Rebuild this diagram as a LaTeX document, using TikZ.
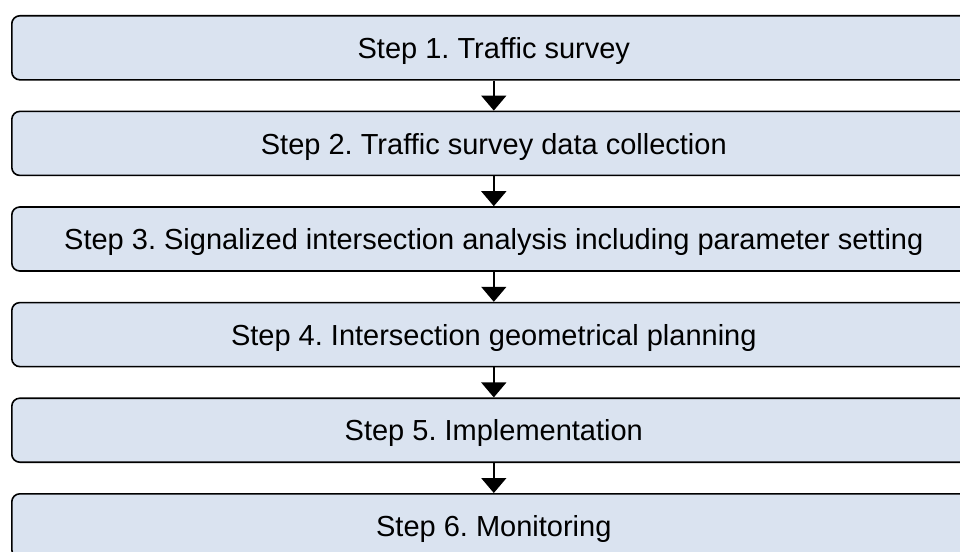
\documentclass[tikz,border=0pt]{standalone}
\usepackage{fontspec}
\setmainfont{Liberation Sans}
\usetikzlibrary{arrows.meta}
\definecolor{stepfill}{RGB}{218,227,240}
\tikzset{
  stepbox/.style={draw=black, line width=1.6pt, fill=stepfill, rounded corners=8pt,
    minimum width=964pt, minimum height=64pt, inner sep=0pt,
    text height=21.5pt, text depth=0pt,
    font=\fontsize{29}{34}\selectfont\frenchspacing, anchor=north west},
  flow/.style={line width=1.6pt, -{Triangle[width=25pt,length=15pt]}}
}
\begin{document}
\begin{tikzpicture}[x=1pt,y=1pt]
\useasboundingbox (0,0) rectangle (960,-551);
\begin{scope}
\clip (0,0) rectangle (960,-551);
\node[stepbox] (s1) at (11,-15)    {Step 1. Traffic survey};
\node[stepbox] (s2) at (11,-110.6) {Step 2. Traffic survey data collection};
\node[stepbox] (s3) at (11,-206.2) {Step 3. Signalized intersection analysis including parameter setting};
\node[stepbox] (s4) at (11,-301.8) {Step 4. Intersection geometrical planning};
\node[stepbox] (s5) at (11,-397.4) {Step 5. Implementation};
\node[stepbox] (s6) at (11,-493)   {Step 6. Monitoring};
\end{scope}
\foreach \a/\b in {s1/s2,s2/s3,s3/s4,s4/s5,s5/s6}
  \draw[flow] (\a.south) -- (\b.north);
\end{tikzpicture}
\end{document}
